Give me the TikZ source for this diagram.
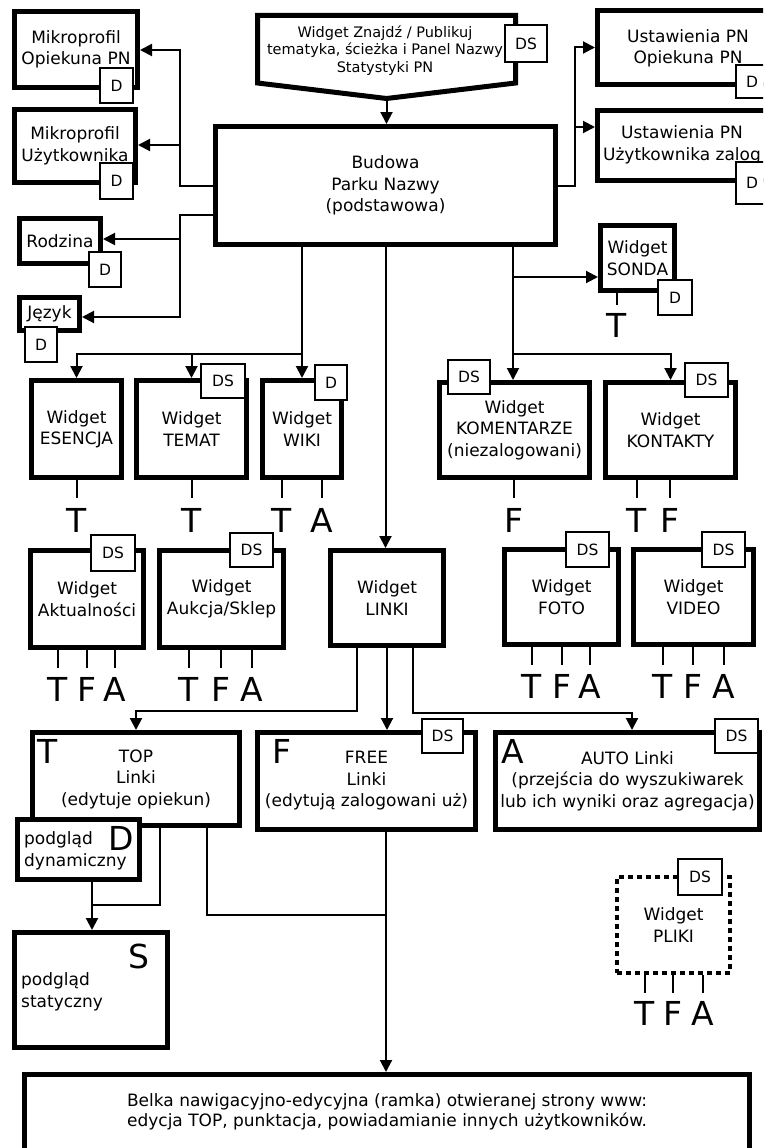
\documentclass[tikz,border=0pt]{standalone}
\usepackage{fontspec}
\setmainfont{DejaVu Sans}
\usetikzlibrary{arrows.meta}
\newcommand\dgBox{\fontsize{17}{21.5}\selectfont}
\newcommand\dgBar{\fontsize{17}{20}\selectfont}
\newcommand\dgSmall{\fontsize{14.5}{17.5}\selectfont}
\newcommand\dgTag{\fontsize{15.5}{18}\selectfont}
\newcommand\dgBig{\fontsize{33}{36}\selectfont}

\begin{document}
\begin{tikzpicture}[x=1pt,y=-1pt,
  bigbox/.style={draw, line width=5pt, fill=white, inner sep=0pt, align=center, font=\dgBox},
  txt/.style={inner sep=0pt, align=center, font=\dgBox},
  tag/.style={draw, line width=1.5pt, fill=white, inner sep=0pt, font=\dgTag},
  conn/.style={line width=2pt},
  arr/.style={conn, -{Triangle[length=12pt,width=12pt]}},
  stem/.style={line width=2pt},
  letter/.style={font=\dgBig, inner sep=0pt, anchor=base},
]
\useasboundingbox (0,0) rectangle (763,1148);
\clip (0,0) rectangle (763,1148);

% ---------- top banner ----------
\coordinate (bnA) at (257.5,15.5);
\coordinate (bnB) at (515.5,15.5);
\coordinate (bnC) at (515.5,83);
\coordinate (bnTip) at (386.5,98.5);
\coordinate (bnD) at (257.5,83);
\draw[line width=5pt, fill=white] (bnA) -- (bnB) -- (bnC) -- (bnTip) -- (bnD) -- cycle;
\node[txt, font=\dgSmall] (banner) at (385,50.5) {Widget Znajdź / Publikuj\\tematyka, ścieżka i Panel Nazwy\\Statystyki PN};

% ---------- main boxes ----------
\node[bigbox, minimum width=123pt, minimum height=76pt] (mikroOp) at (76,49.5) {Mikroprofil\\Opiekuna PN};
\node[bigbox, minimum width=121pt, minimum height=73pt] (mikroUz) at (75,146) {Mikroprofil\\Użytkownika};
\node[bigbox, minimum width=81pt, minimum height=45pt] (rodzina) at (60,241) {Rodzina};
\node[bigbox, minimum width=60pt, minimum height=33pt] (jezyk) at (49.5,314) {Język};
\node[bigbox, minimum width=340pt, minimum height=118pt] (budowa) at (385.5,185.5) {Budowa\\Parku Nazwy\\(podstawowa)};

\node[bigbox, minimum width=202.5pt, minimum height=74pt] (ustOp) at (698.75,47.5) {};
\node[txt] (ustOpTxt) at (688,48.5) {Ustawienia PN\\Opiekuna PN};
\node[bigbox, minimum width=202.5pt, minimum height=70pt] (ustUz) at (698.75,145.5) {};
\node[txt] (ustUzTxt) at (682,145) {Ustawienia PN\\Użytkownika zalog};

\node[bigbox, minimum width=74pt, minimum height=65pt] (sonda) at (637.5,258) {Widget\\SONDA};

\node[bigbox, minimum width=90pt, minimum height=97pt] (esencja) at (76.5,429) {Widget\\ESENCJA};
\node[bigbox, minimum width=110pt, minimum height=97pt] (temat) at (191.5,429) {Widget\\TEMAT};
\node[bigbox, minimum width=79pt, minimum height=97pt] (wiki) at (302,429) {Widget\\WIKI};
\node[bigbox, minimum width=150pt, minimum height=95pt] (koment) at (514.5,430) {Widget\\KOMENTARZE\\(niezalogowani)};
\node[bigbox, minimum width=130pt, minimum height=95pt] (kontakty) at (670.5,430) {Widget\\KONTAKTY};

\node[bigbox, minimum width=113pt, minimum height=97pt] (aktual) at (87,599) {Widget\\Aktualności};
\node[bigbox, minimum width=124pt, minimum height=97pt] (aukcja) at (221.5,599) {Widget\\Aukcja/Sklep};
\node[bigbox, minimum width=113pt, minimum height=95pt] (linki) at (387,598) {Widget\\LINKI};
\node[bigbox, minimum width=114pt, minimum height=95pt] (foto) at (561.5,597) {Widget\\FOTO};
\node[bigbox, minimum width=120pt, minimum height=95pt] (video) at (693.5,597) {Widget\\VIDEO};

\node[bigbox, minimum width=207pt, minimum height=93pt] (topL) at (136,779) {TOP\\Linki\\(edytuje opiekun)};
\node[bigbox, minimum width=218pt, minimum height=97pt] (freeL) at (366.5,781) {FREE\\Linki\\(edytują zalogowani uż)};
\node[bigbox, minimum width=264pt, minimum height=97pt] (autoL) at (627.5,781) {AUTO Linki\\(przejścia do wyszukiwarek\\lub ich wyniki oraz agregacja)};

\node[bigbox, minimum width=122pt, minimum height=60pt] (dyn) at (78.5,849.5) {};
\node[txt, align=left, anchor=west] (dynTxt) at (24,851) {podgląd\\dynamiczny};
\node[bigbox, minimum width=153pt, minimum height=115pt] (stat) at (91,990) {};
\node[txt, align=left, anchor=west] (statTxt) at (21,992) {podgląd\\statyczny};

\node[bigbox, line width=4pt, dash pattern=on 5pt off 4pt, minimum width=113pt, minimum height=96pt] (pliki) at (673.5,925) {Widget\\PLIKI};

\node[bigbox, minimum width=725pt, minimum height=78.5pt] (belka) at (387,1113.75) {};
\node[txt, font=\dgBar] (belkaTxt) at (387,1112) {Belka nawigacyjno-edycyjna (ramka) otwieranej strony www:\\edycja TOP, punktacja, powiadamianie innych użytkowników.};

% ---------- connectors ----------
\coordinate (jL1) at (180,50);
\coordinate (jL2) at (180,145);
\coordinate (jL3) at (180,215);
\coordinate (jL4) at (180,239);
\coordinate (jL5) at (180,317);
\draw[arr] (budowa.west) -| (jL1) -- (jL1 -| mikroOp.east);
\draw[arr] (jL2) -- (jL2 -| mikroUz.east);
\draw[arr] (jL3 -| budowa.west) -- (jL3) -- (jL5) -- (jL5 -| jezyk.east);
\draw[arr] (jL4) -- (jL4 -| rodzina.east);

\coordinate (jR1) at (575,47.5);
\coordinate (jR2) at (575,127);
\draw[arr] (budowa.east) -| (jR1) -- (ustOp.west);
\draw[arr] (jR2) -- (jR2 -| ustUz.west);

\draw[arr] (bnTip) -- (bnTip |- budowa.north);

\coordinate (jM1) at (302,354);
\draw[conn] (jM1 |- budowa.south) -- (jM1);
\draw[arr] (jM1) -| (esencja.north);
\draw[arr] (jM1) -| (temat.north);
\draw[arr] (jM1) -- (jM1 |- wiki.north);

\coordinate (jM2) at (513,354);
\coordinate (jM3) at (513,277);
\draw[conn] (jM2 |- budowa.south) -- (jM2);
\draw[arr] (jM2) -- (jM2 |- koment.north);
\draw[arr] (jM2) -| (kontakty.north);
\draw[arr] (jM3) -- (jM3 -| sonda.west);

\draw[arr] (budowa.south) -- (budowa.south |- linki.north);

\coordinate (jK1) at (357,711);
\coordinate (jK2) at (413,713);
\coordinate (jK3) at (632,713);
\draw[arr] (jK1 |- linki.south) -- (jK1) -| (topL.north);
\draw[arr] (linki.south) -- (linki.south |- freeL.north);
\draw[arr] (jK2 |- linki.south) -- (jK2) -- (jK3) -- (jK3 |- autoL.north);

\coordinate (jT1) at (92,905);
\coordinate (jT2) at (160,905);
\coordinate (jT3) at (207,915);
\coordinate (jT4) at (386,915);
\draw[arr] (jT1 |- dyn.south) -- (jT1 |- stat.north);
\draw[conn] (jT2 |- topL.south) -- (jT2) -- (jT1);
\draw[conn] (jT3 |- topL.south) -- (jT3) -- (jT4);
\draw[arr] (jT4 |- freeL.south) -- (jT4 |- belka.north);

% ---------- D / DS tags ----------
\node[tag, minimum width=33pt, minimum height=35pt] (tMikroOp) at (116.5,85.5) {D};
\node[tag, minimum width=33pt, minimum height=36pt] (tMikroUz) at (116.5,181) {D};
\node[tag, minimum width=32pt, minimum height=35pt] (tRodzina) at (105,269.5) {D};
\node[tag, minimum width=32pt, minimum height=35pt] (tJezyk) at (41,344.5) {D};
\node[tag, minimum width=42pt, minimum height=37pt] (tBanner) at (526,43.5) {DS};
\node[tag, minimum width=32pt, minimum height=33pt] (tUstOp) at (752,81.5) {D};
\node[tag, minimum width=32pt, minimum height=42pt] (tUstUz) at (752,183) {D};
\node[tag, minimum width=34pt, minimum height=35pt] (tSonda) at (675,297.5) {D};
\node[tag, minimum width=44pt, minimum height=34pt] (tTemat) at (223,381) {DS};
\node[tag, minimum width=32pt, minimum height=35pt] (tWiki) at (331,382.5) {D};
\node[tag, minimum width=42pt, minimum height=34pt] (tKoment) at (469,377) {DS};
\node[tag, minimum width=43pt, minimum height=34pt] (tKontakty) at (706.5,380) {DS};
\node[tag, minimum width=44pt, minimum height=36pt] (tAktual) at (113,553) {DS};
\node[tag, minimum width=43pt, minimum height=34pt] (tAukcja) at (251.5,550) {DS};
\node[tag, minimum width=43pt, minimum height=35pt] (tFoto) at (587.5,549.5) {DS};
\node[tag, minimum width=43pt, minimum height=35pt] (tVideo) at (723.5,549.5) {DS};
\node[tag, minimum width=41pt, minimum height=34pt] (tFree) at (442.5,736) {DS};
\node[tag, minimum width=43pt, minimum height=34pt] (tAuto) at (736.5,736) {DS};
\node[tag, minimum width=44pt, minimum height=36pt] (tPliki) at (700,877) {DS};

% ---------- big letters inside boxes ----------
\node[letter, anchor=base west] (topT) at (37,763) {T};
\node[letter, anchor=base west] (freeF) at (272,763) {F};
\node[letter, anchor=base west] (autoA) at (501,763) {A};
\node[letter, anchor=base west] (dynD) at (108,850) {D};
\node[letter, anchor=base west] (statS) at (128,968) {S};

% ---------- T / F / A stems under widgets ----------
\draw[stem] (617,293) -- (617,305);
\node[letter] (sondaT) at (617,337) {T};

\foreach \x/\l [count=\i] in {77/T,192/T,282/T,322/A,514/F,637/T,670/F} {
  \draw[stem] (\x,480) -- (\x,498);
  \node[letter] (rowA-\i) at (\x,532) {\l};
}
\foreach \x/\l [count=\i] in {58/T,87/F,115/A,189/T,221/F,252/A} {
  \draw[stem] (\x,650) -- (\x,668);
  \node[letter] (rowB-\i) at (\x,701) {\l};
}
\foreach \x/\l [count=\i] in {532/T,562/F,590/A,663/T,693/F,724/A} {
  \draw[stem] (\x,647) -- (\x,665);
  \node[letter] (rowC-\i) at (\x,698) {\l};
}
\foreach \x/\l [count=\i] in {645/T,673/F,703/A} {
  \draw[stem] (\x,975) -- (\x,993);
  \node[letter] (rowD-\i) at (\x,1025) {\l};
}
\end{tikzpicture}
\end{document}
